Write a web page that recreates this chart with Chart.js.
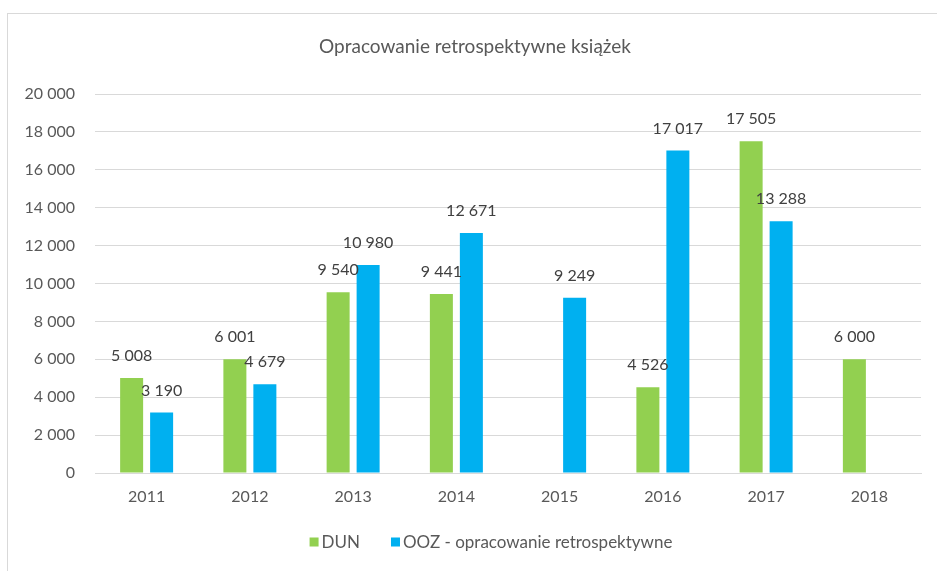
<!DOCTYPE html>
<html>
<head>
<meta charset="utf-8">
<script src="https://cdn.jsdelivr.net/npm/chart.js@4/dist/chart.umd.min.js"></script>
<style>
  html, body { margin: 0; padding: 0; background: #fff; overflow: hidden; width: 937px; height: 571px; }
  #frame { position: absolute; left: 7px; top: 13px; width: 960px; height: 600px; border: 1px solid #d9d9d9; box-sizing: border-box; }
  #wrap { position: absolute; left: 8px; top: 14px; width: 929px; height: 557px; }
</style>
</head>
<body>
<div id="frame"></div>
<div id="wrap"><canvas id="c" width="929" height="557"></canvas></div>
<script>
const chartTitle = "Opracowanie retrospektywne książek";
const categories = ["2011", "2012", "2013", "2014", "2015", "2016", "2017", "2018"];
const seriesNames = ["DUN", "OOZ - opracowanie retrospektywne"];
const dunValues = [5008, 6001, 9540, 9441, null, 4526, 17505, 6000];
const oozValues = [3190, 4679, 10980, 12671, 9249, 17017, 13288, null];
const yTicks = [0, 2000, 4000, 6000, 8000, 10000, 12000, 14000, 16000, 18000, 20000];
const seriesColors = ["#92D050", "#00B0F0"];

const FONT = "Lato, 'Open Sans', sans-serif";
const TEXT = "#595959";

function fmt(v) {
  return String(Math.round(v)).replace(/\B(?=(\d{3})+(?!\d))/g, " ");
}

const labelPlugin = {
  id: "barLabels",
  afterDatasetsDraw(chart) {
    const ctx = chart.ctx;
    ctx.save();
    ctx.font = "16px " + FONT;
    ctx.fillStyle = "#404040";
    ctx.textAlign = "center";
    ctx.textBaseline = "middle";
    chart.data.datasets.forEach((ds, i) => {
      const meta = chart.getDatasetMeta(i);
      meta.data.forEach((bar, j) => {
        const v = ds.data[j];
        if (v === null || v === undefined) return;
        ctx.fillText(fmt(v), bar.x, bar.y - 22);
      });
    });
    ctx.restore();
  }
};

const titleLegendPlugin = {
  id: "titleLegend",
  afterDraw(chart) {
    const ctx = chart.ctx;
    ctx.save();
    // title
    ctx.font = "19px " + FONT;
    ctx.fillStyle = TEXT;
    ctx.textAlign = "center";
    ctx.textBaseline = "middle";
    ctx.fillText(chartTitle, 467, 33);
    // legend
    ctx.font = "17px " + FONT;
    ctx.textAlign = "left";
    const box = 9, gapText = 3, gapItem = 31, cy = 528;
    const widths = chart.data.datasets.map(ds => ctx.measureText(ds.label).width);
    const total = widths.reduce((a, w) => a + box + gapText + w, 0) + gapItem * (widths.length - 1);
    let x = 483 - total / 2;
    chart.data.datasets.forEach((ds, i) => {
      ctx.fillStyle = ds.backgroundColor;
      ctx.fillRect(x, cy - box / 2, box, box);
      x += box + gapText;
      ctx.fillStyle = TEXT;
      ctx.fillText(ds.label, x, cy + 1);
      x += widths[i] + gapItem;
    });
    ctx.restore();
  }
};

new Chart(document.getElementById("c"), {
  type: "bar",
  data: {
    labels: categories,
    datasets: [
      { label: seriesNames[0], data: dunValues, backgroundColor: seriesColors[0], categoryPercentage: 0.581, barPercentage: 0.767 },
      { label: seriesNames[1], data: oozValues, backgroundColor: seriesColors[1], categoryPercentage: 0.581, barPercentage: 0.767 }
    ]
  },
  options: {
    responsive: false,
    animation: false,
    devicePixelRatio: 1,
    layout: { padding: { left: 0, right: 16, top: 80, bottom: 0 } },
    plugins: {
      title: { display: false },
      legend: { display: false },
      tooltip: { enabled: false }
    },
    scales: {
      x: {
        grid: { display: false, drawTicks: false },
        border: { display: true, color: "#d9d9d9", width: 1 },
        ticks: { color: TEXT, font: { family: FONT, size: 16 }, padding: 14 },
        afterFit(scale) { scale.height = 98; }
      },
      y: {
        min: 0,
        max: 20000,
        afterBuildTicks(scale) { scale.ticks = yTicks.map(v => ({ value: v })); },
        grid: { color: "#d9d9d9", lineWidth: 1, drawTicks: false },
        border: { display: false },
        ticks: { color: TEXT, font: { family: FONT, size: 16 }, padding: 20, callback: v => fmt(v) },
        afterFit(scale) { scale.width = 87; }
      }
    }
  },
  plugins: [labelPlugin, titleLegendPlugin]
});
</script>
</body>
</html>
